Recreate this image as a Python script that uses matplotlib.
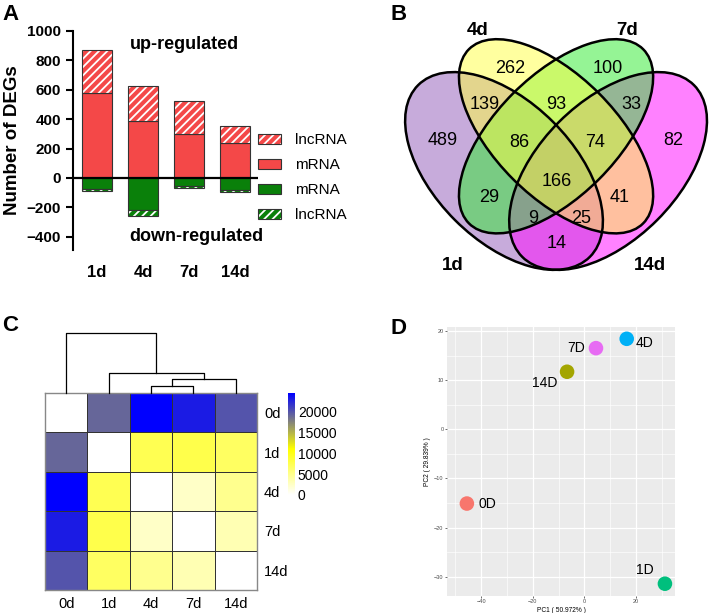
import numpy as np
import matplotlib

matplotlib.use("Agg")
import matplotlib.pyplot as plt
from matplotlib.patches import Ellipse, Patch
from matplotlib.colors import LinearSegmentedColormap

plt.rcParams["font.family"] = ["Liberation Sans", "DejaVu Sans"]
plt.rcParams["hatch.linewidth"] = 1.3

# ---- data -------------------------------------------------------------
# A: number of DEGs
days = ["1d", "4d", "7d", "14d"]
up_mrna = [575, 385, 300, 240]
up_lnc = [295, 243, 225, 115]
down_mrna = [-75, -215, -55, -80]
down_lnc = [-13, -43, -10, -12]

# B: venn (sets 1d, 4d, 7d, 14d)
venn_sets = ["1d", "4d", "7d", "14d"]
venn_regions = ["4d", "7d", "1d&4d", "4d&7d", "7d&14d", "1d", "1d&4d&7d",
                "4d&7d&14d", "14d", "all", "1d&7d", "4d&14d", "1d&7d&14d",
                "1d&4d&14d", "1d&14d"]
venn_counts = [262, 100, 139, 93, 33, 489, 86, 74, 82, 166, 29, 41, 9, 25, 14]

# C: distance heatmap
heat_labels = ["0d", "1d", "4d", "7d", "14d"]
dist = np.array([
    [0, 19000, 24400, 22900, 20000],
    [19000, 0, 7500, 7800, 6800],
    [24400, 7500, 0, 2400, 4900],
    [22900, 7800, 2400, 0, 3300],
    [20000, 6800, 4900, 3300, 0],
])
# merges: (left node, right node, height); leaves 0..4, new nodes 5..
merges = [(2, 3, 0.12), (5, 4, 0.23), (1, 6, 0.33), (0, 7, 1.0)]

# D: PCA
pca_labels = ["0D", "1D", "4D", "7D", "14D"]
pc1 = [-45.5, 31.2, 16.4, 4.5, -6.7]
pc2 = [-15.1, -31.4, 18.4, 16.5, 11.7]
pca_colors = ["#F8766D", "#00BF7D", "#00B0F6", "#E76BF3", "#A3A500"]

W, H = 709, 613
fig = plt.figure(figsize=(W / 100, H / 100), dpi=100)


def px_axes(left, top, right, bottom):
    return fig.add_axes([left / W, 1 - bottom / H, (right - left) / W, (bottom - top) / H])


# ---- A ----------------------------------------------------------------
red, green, edge = "#F44848", "#0A800A", "#333333"
ax = px_axes(73, 31, 258, 250)
x = np.arange(len(days))
bw = 0.65
ax.bar(x, up_mrna, bw, color=red, edgecolor=edge, lw=0.8, zorder=2)
ax.bar(x, up_lnc, bw, bottom=up_mrna, color=red, edgecolor="white", hatch="////", lw=0, zorder=2)
ax.bar(x, up_lnc, bw, bottom=up_mrna, fill=False, edgecolor=edge, lw=0.8, zorder=3)
ax.bar(x, down_mrna, bw, color=green, edgecolor=edge, lw=0.8, zorder=2)
ax.bar(x, down_lnc, bw, bottom=down_mrna, color=green, edgecolor="white", hatch="////", lw=0, zorder=2)
ax.bar(x, down_lnc, bw, bottom=down_mrna, fill=False, edgecolor=edge, lw=0.8, zorder=3)
ax.axhline(0, color="black", lw=1.6, zorder=4)
ax.set_xlim(-0.52, 3.5)
ax.set_ylim(-490, 1000)
ax.set_yticks(range(-400, 1001, 200))
ax.set_xticks(x, days)
for s in ("top", "right", "bottom"):
    ax.spines[s].set_visible(False)
ax.spines["left"].set_linewidth(1.5)
ax.tick_params(axis="y", width=1.5, length=5, labelsize=11)
ax.tick_params(axis="x", length=0, pad=11, labelsize=12)
for t in ax.get_xticklabels() + ax.get_yticklabels():
    t.set_fontweight("bold")
ax.set_ylabel("Number of DEGs", fontsize=13.5, fontweight="bold")
ax.yaxis.set_label_coords(-0.28, 0.5)
ax.text(1.9, 910, "up-regulated", ha="center", va="center", fontsize=13, fontweight="bold")
ax.text(2.15, -395, "down-regulated", ha="center", va="center", fontsize=13, fontweight="bold")
outline = Patch(facecolor="none", edgecolor=edge, lw=0.8)
handles = [
    (Patch(facecolor=red, edgecolor="white", hatch="////", lw=0), outline),
    (Patch(facecolor=red, lw=0), outline),
    (Patch(facecolor=green, lw=0), outline),
    (Patch(facecolor=green, edgecolor="white", hatch="////", lw=0), outline),
]
ax.legend(handles, ["lncRNA", "mRNA", "mRNA", "lncRNA"], loc="center left",
          bbox_to_anchor=(1.0, 0.33), frameon=False, fontsize=11, handlelength=1.5,
          handleheight=0.68, labelspacing=0.72, handletextpad=0.9, borderaxespad=0, borderpad=0)

# ---- B ----------------------------------------------------------------
axb = px_axes(393, 21.8, 708.7, 282)
axb.set_xlim(0.03, 0.94)
axb.set_ylim(0.15, 0.9)
axb.axis("off")
# drawn in this order: 1d, 14d, 7d, 4d
ell_specs = [((0.35, 0.47), 0.70, 0.40, -45, "#9159B9"),
             ((0.65, 0.47), 0.70, 0.40, 45, "#FF05FF"),
             ((0.50, 0.57), 0.71, 0.35, 45, "#2DEB2D"),
             ((0.50, 0.57), 0.71, 0.35, -45, "#FFFF41")]
for (c, w, h, ang, col) in ell_specs:
    axb.add_patch(Ellipse(c, w, h, angle=ang, facecolor=col, alpha=0.5, lw=0))
for (c, w, h, ang, col) in ell_specs:
    axb.add_patch(Ellipse(c, w, h, angle=ang, fill=False, edgecolor="black", lw=1.8))
venn_pos = {"4d": (0.367, 0.764), "7d": (0.650, 0.764), "1d&4d": (0.295, 0.663),
            "4d&7d": (0.500, 0.663), "7d&14d": (0.716, 0.663), "1d": (0.174, 0.557),
            "1d&4d&7d": (0.393, 0.551), "4d&7d&14d": (0.612, 0.551), "14d": (0.837, 0.557),
            "all": (0.503, 0.441), "1d&7d": (0.307, 0.395), "4d&14d": (0.684, 0.395),
            "1d&7d&14d": (0.434, 0.332), "1d&4d&14d": (0.572, 0.332), "1d&14d": (0.503, 0.260)}
for reg, n in zip(venn_regions, venn_counts):
    axb.text(*venn_pos[reg], str(n), ha="center", va="center", fontsize=13)
set_pos = [(0.203, 0.199), (0.275, 0.876), (0.705, 0.876), (0.771, 0.199)]
for name, (u, v) in zip(venn_sets, set_pos):
    axb.text(u, v, name, ha="center", va="center", fontsize=13.5, fontweight="bold")

# ---- C ----------------------------------------------------------------
cmap = LinearSegmentedColormap.from_list(
    "wyb", [(0, "white"), (0.45, "yellow"), (1.0, "blue")])
axh = px_axes(45, 393, 257, 590)
mesh = axh.pcolormesh(dist, cmap=cmap, vmin=0, vmax=24400, edgecolors="#333333", lw=0.7)
axh.set_xlim(0, 5)
axh.set_ylim(5, 0)
axh.set_xticks(np.arange(5) + 0.5, heat_labels)
axh.set_yticks(np.arange(5) + 0.5, heat_labels)
axh.yaxis.tick_right()
axh.tick_params(length=0, labelsize=10.5, pad=5)
for s in axh.spines.values():
    s.set_edgecolor("#888888")
    s.set_linewidth(1)

axd = px_axes(45, 333, 257, 393)
axd.set_xlim(0, 5)
axd.set_ylim(0, 1.0)
axd.axis("off")
node_x = {i: i + 0.5 for i in range(5)}
node_h = {i: 0.0 for i in range(5)}
for k, (a, b, h) in enumerate(merges):
    axd.plot([node_x[a], node_x[a], node_x[b], node_x[b]],
             [node_h[a], h, h, node_h[b]], color="black", lw=0.9, clip_on=False)
    node_x[5 + k] = (node_x[a] + node_x[b]) / 2
    node_h[5 + k] = h

axc = px_axes(288, 393, 295, 495)
cb = fig.colorbar(mesh, cax=axc)
cb.set_ticks([0, 5000, 10000, 15000, 20000])
cb.outline.set_visible(False)
axc.tick_params(length=0, labelsize=10, pad=2)

# ---- D ----------------------------------------------------------------
axp = px_axes(447, 327, 675, 596)
axp.set_facecolor("#EBEBEB")
axp.set_xlim(-53.2, 35.1)
axp.set_ylim(-33.9, 20.8)
axp.set_xticks([-40, -20, 0, 20])
axp.set_yticks([-30, -20, -10, 0, 10, 20])
axp.set_xticks([-50, -30, -10, 10, 30], minor=True)
axp.set_yticks([-25, -15, -5, 5, 15], minor=True)
axp.grid(True, which="major", color="white", lw=0.9)
axp.grid(True, which="minor", color="white", lw=0.45)
axp.set_axisbelow(True)
for s in axp.spines.values():
    s.set_visible(False)
axp.tick_params(which="major", length=1.5, width=0.5, color="#333333",
                labelsize=4, labelcolor="#4D4D4D", pad=1)
axp.tick_params(which="minor", length=0)
axp.scatter(pc1, pc2, s=110, c=pca_colors, zorder=3, lw=0)
offsets = [(12, 0, "left"), (-20, 14, "center"), (9, -4, "left"),
           (-11, 0, "right"), (-22, -11, "center")]
for lab, px_, py_, (dx, dy, ha) in zip(pca_labels, pc1, pc2, offsets):
    axp.annotate(lab, (px_, py_), xytext=(dx, dy), textcoords="offset pixels",
                 ha=ha, va="center", fontsize=10)
axp.set_xlabel("PC1 ( 50.972% )", fontsize=4.8, labelpad=2)
axp.set_ylabel("PC2 ( 29.839% )", fontsize=4.8, labelpad=2)

# ---- panel letters ----------------------------------------------------
for lab, lx, ly in [("A", 2, 4), ("B", 390, 4), ("C", 2, 315), ("D", 391, 318)]:
    fig.text(lx / W, 1 - ly / H, lab, fontsize=16, fontweight="bold", ha="left", va="top")

fig.savefig("out.png", dpi=100)
plt.close(fig)
